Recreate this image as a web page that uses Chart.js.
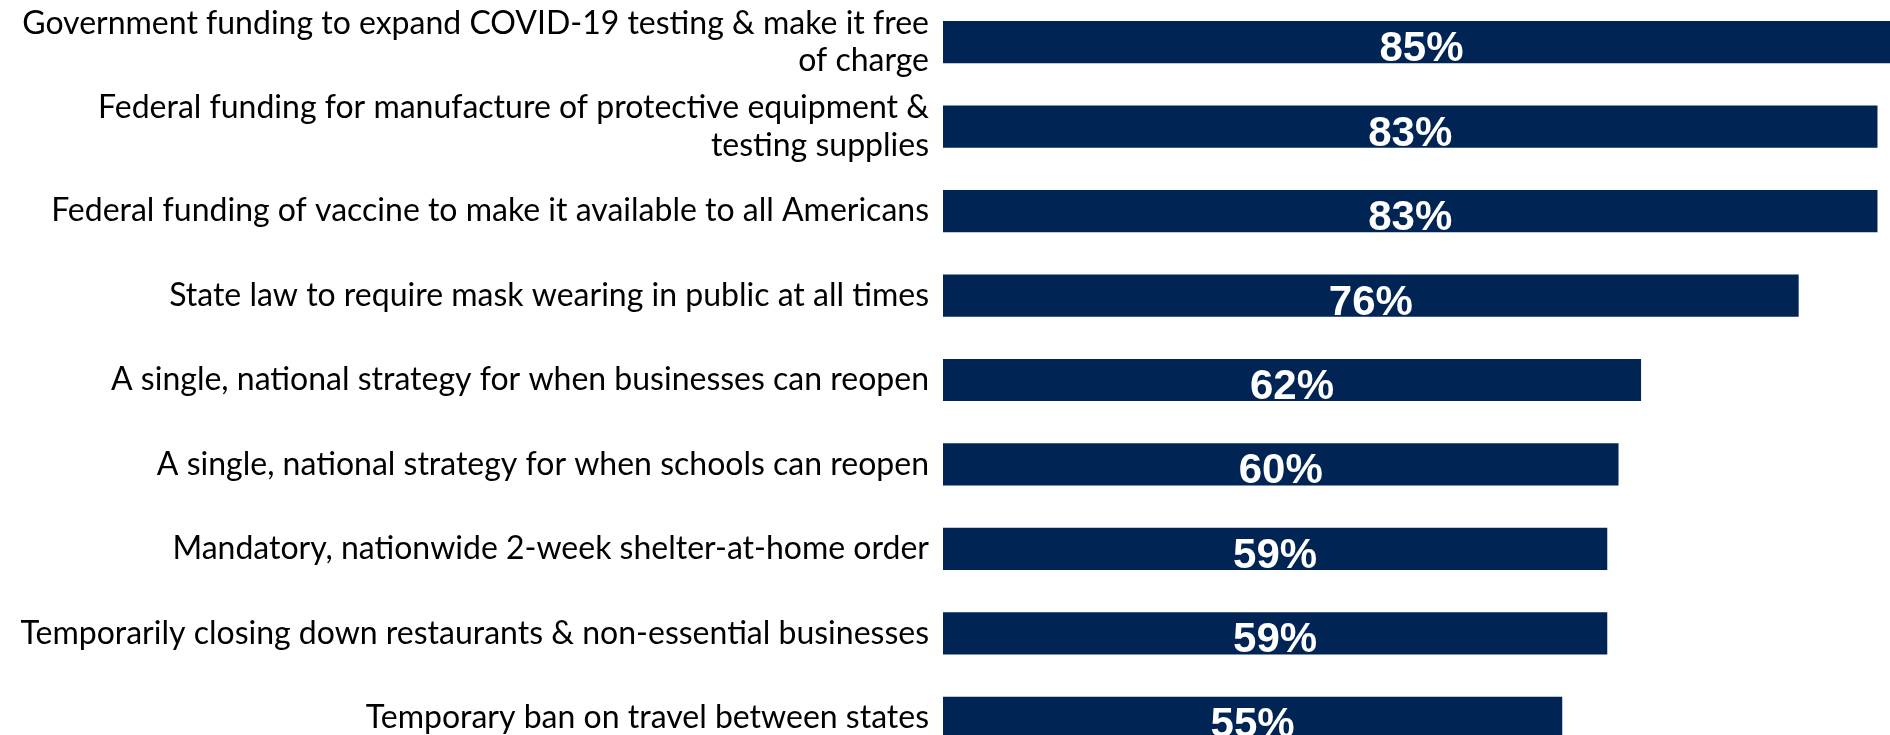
<!DOCTYPE html>
<html>
<head>
<meta charset="utf-8">
<script src="https://cdn.jsdelivr.net/npm/chart.js@4"></script>
<style>
  html, body { margin: 0; padding: 0; background: #fff; overflow: hidden; }
  #wrap { position: absolute; left: 0; top: 0; }
</style>
</head>
<body>
<div id="wrap"><canvas id="bars" width="1900" height="760"></canvas></div>
<script>
const categorias = [
  ['Government funding to expand COVID-19 testing & make it free', 'of charge'],
  ['Federal funding for manufacture of protective equipment &', 'testing supplies'],
  'Federal funding of vaccine to make it available to all Americans',
  'State law to require mask wearing in public at all times',
  'A single, national strategy for when businesses can reopen',
  'A single, national strategy for when schools can reopen',
  'Mandatory, nationwide 2-week shelter-at-home order',
  'Temporarily closing down restaurants & non-essential businesses',
  'Temporary ban on travel between states'
];
const apoio = [85, 83, 83, 76, 62, 60, 59, 59, 55];

// rotulos brancos dentro das barras
const rotulos = {
  id: 'rotulos',
  afterDatasetsDraw(chart) {
    const c = chart.ctx;
    const meta = chart.getDatasetMeta(0);
    c.save();
    c.fillStyle = '#ffffff';
    c.font = 'bold 42px "Liberation Sans", Arial, sans-serif';
    c.textAlign = 'center';
    c.textBaseline = 'alphabetic';
    meta.data.forEach((bar, i) => {
      const x = (bar.x + bar.base) / 2;
      c.fillText(apoio[i] + '%', x, bar.y + 19);
    });
    c.restore();
  }
};

const ctx = document.getElementById('bars');
new Chart(ctx, {
  type: 'bar',
  data: {
    labels: categorias,
    datasets: [{
      data: apoio,
      backgroundColor: '#002554',
      borderWidth: 0,
      barPercentage: 0.5,
      categoryPercentage: 1
    }]
  },
  options: {
    indexAxis: 'y',
    responsive: false,
    animation: false,
    layout: { padding: 0 },
    plugins: {
      legend: { display: false },
      tooltip: { enabled: false }
    },
    scales: {
      x: {
        display: false,
        min: 0,
        max: 85
      },
      y: {
        grid: { display: false, drawTicks: false },
        border: { display: false },
        ticks: {
          color: '#000000',
          padding: 14,
          font: { family: 'Lato', size: 32, lineHeight: 1.16 }
        },
        afterFit(scale) {
          scale.width = 943;
          scale.paddingTop = 0;
          scale.paddingBottom = 0;
        }
      }
    }
  },
  plugins: [rotulos]
});
</script>
</body>
</html>
